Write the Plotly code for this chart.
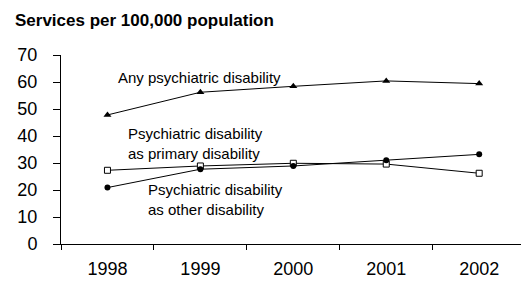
import plotly.graph_objects as go

years = ["1998", "1999", "2000", "2001", "2002"]
any_psych = [47.8, 56.2, 58.4, 60.4, 59.4]
primary = [27.3, 28.9, 29.9, 29.6, 26.2]
other = [20.9, 27.7, 28.9, 31.0, 33.2]
y_ticks = [0, 10, 20, 30, 40, 50, 60, 70]

FONT = "Arial, Liberation Sans, sans-serif"

fig = go.Figure()
fig.add_trace(go.Scatter(x=years, y=any_psych, mode="lines+markers",
                         line=dict(color="black", width=1),
                         marker=dict(symbol="triangle-up", size=7, color="black")))
fig.add_trace(go.Scatter(x=years, y=primary, mode="lines+markers",
                         line=dict(color="black", width=1),
                         marker=dict(symbol="square", size=6, color="white",
                                     line=dict(color="black", width=1))))
fig.add_trace(go.Scatter(x=years, y=other, mode="lines+markers",
                         line=dict(color="black", width=1),
                         marker=dict(symbol="circle", size=6, color="black")))

ann_font = dict(family=FONT, size=15, color="black")
fig.add_annotation(x=0.09, y=61.5, xref="x", yref="y", text="Any psychiatric disability",
                   showarrow=False, xanchor="left", yanchor="middle", font=ann_font)
fig.add_annotation(x=0.2, y=37.2, xref="x", yref="y",
                   text="Psychiatric disability<br>as primary disability",
                   showarrow=False, xanchor="left", yanchor="middle", align="left", font=ann_font)
fig.add_annotation(x=0.415, y=16.3, xref="x", yref="y",
                   text="Psychiatric disability<br>as other disability",
                   showarrow=False, xanchor="left", yanchor="middle", align="left", font=ann_font)

fig.update_layout(
    width=521, height=281,
    margin=dict(l=61, r=0, t=55, b=37, autoexpand=False),
    paper_bgcolor="white", plot_bgcolor="white",
    showlegend=False,
    title=dict(text="<b>Services per 100,000 population</b>", xref="container", yref="container",
               x=15/521, xanchor="left", y=1 - 20/281, yanchor="middle",
               font=dict(family=FONT, size=17, color="black")),
    xaxis=dict(type="category", range=[-0.5, 4.45], showline=True, linecolor="black", linewidth=1,
               ticks="outside", tickson="boundaries", ticklen=5, tickcolor="black",
               showgrid=False, zeroline=False, ticklabelstandoff=8, automargin=False,
               tickfont=dict(family=FONT, size=18, color="black")),
    yaxis=dict(range=[0, 70], tickvals=y_ticks, showline=True, linecolor="black", linewidth=1,
               ticks="outside", ticklen=7, tickcolor="black", showgrid=False, zeroline=False,
               ticklabelstandoff=12, automargin=False,
               tickfont=dict(family=FONT, size=18, color="black")),
)

fig.write_html("out.html", config={"displayModeBar": False},
               post_script="document.body.style.margin='0';document.body.style.padding='0';document.body.style.overflow='hidden';")
